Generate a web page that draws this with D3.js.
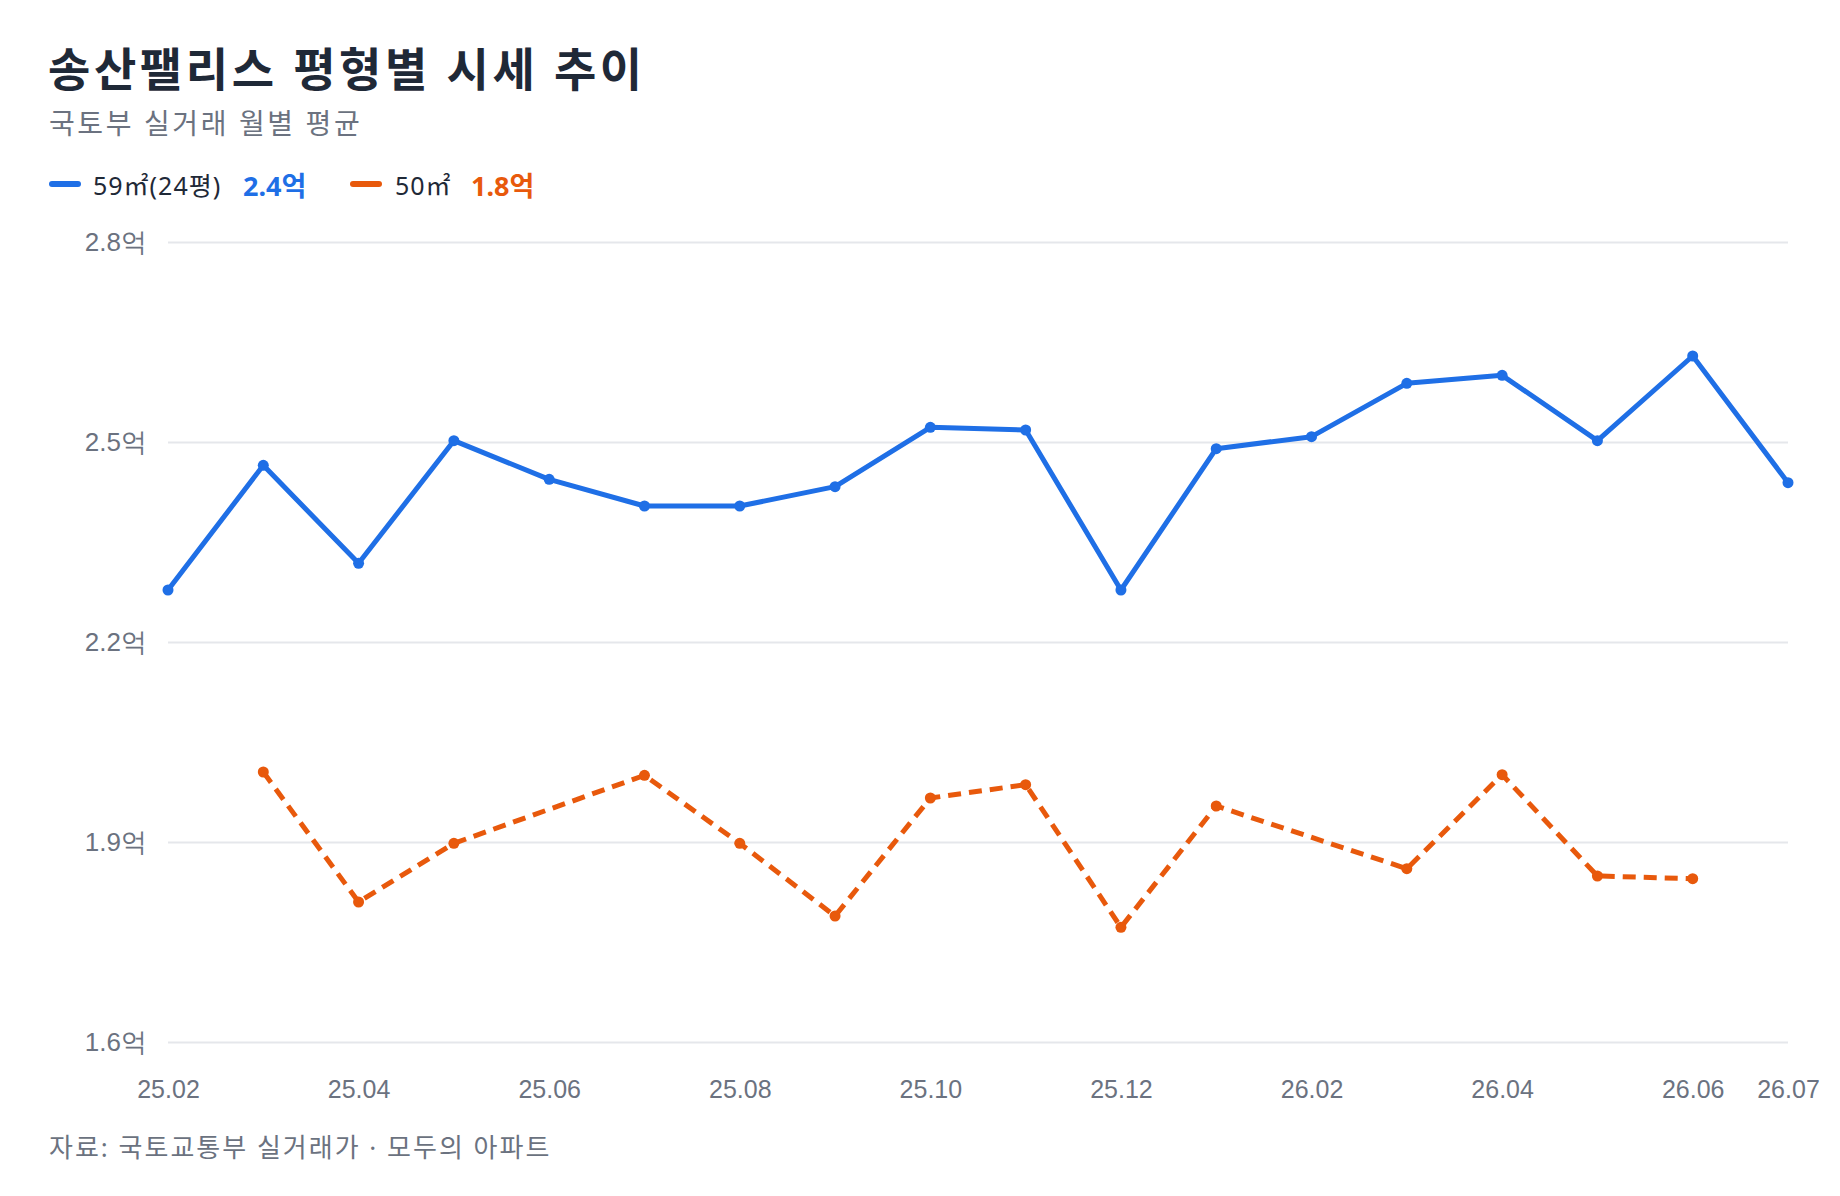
<!DOCTYPE html>
<html lang="ko">
<head>
<meta charset="utf-8">
<script src="https://cdn.jsdelivr.net/npm/d3@7"></script>
<style>
  html, body { margin: 0; padding: 0; background: #ffffff; }
  svg { display: block; font-family: "Noto Sans", "Noto Sans CJK KR", sans-serif; }
</style>
</head>
<body>
<div id="chart"></div>
<script>
// DATA
const months = ["25.02", "25.03", "25.04", "25.05", "25.06", "25.07", "25.08", "25.09", "25.10",
                "25.11", "25.12", "26.01", "26.02", "26.03", "26.04", "26.05", "26.06", "26.07"];
const tickMonths = ["25.02", "25.04", "25.06", "25.08", "25.10", "25.12", "26.02", "26.04", "26.06", "26.07"];
const yTicks = [1.6, 1.9, 2.2, 2.5, 2.8];

// 59㎡(24평) monthly average (억)
const price59 = [2.278, 2.465, 2.318, 2.502, 2.444, 2.404, 2.404, 2.433, 2.522,
                 2.518, 2.278, 2.490, 2.508, 2.588, 2.600, 2.502, 2.629, 2.439];
// 50㎡ monthly average (억), null = no deal that month
const price50 = [null, 2.005, 1.810, 1.898, null, 2.000, 1.898, 1.789, 1.966,
                 1.986, 1.772, 1.954, null, 1.860, 2.001, 1.849, 1.845, null];

const seriesNames = ["59㎡(24평)", "50㎡"];
const seriesColors = ["#1f6fe6", "#e8590c"];

// ---------------------------------------------------------------------------------
// SET-UP
const width = 1840;
const height = 1196;
const plotLeft = 168, plotRight = 1788, plotTop = 242, plotBottom = 1042;

const svg = d3.select("#chart")
    .append("svg")
    .attr("width", width)
    .attr("height", height);

const x = d3.scalePoint()
    .domain(months)
    .range([plotLeft, plotRight]);

const y = d3.scaleLinear()
    .domain([1.6, 2.8])
    .range([plotBottom, plotTop]);

// ---------------------------------------------------------------------------------
// TITLE / SUBTITLE / FOOTNOTE
svg.append("text")
    .attr("x", 48)
    .attr("y", 68)
    .attr("dominant-baseline", "central")
    .attr("font-size", 46)
    .attr("font-weight", 700)
    .attr("letter-spacing", 3.6)
    .attr("fill", "#1f2937")
    .text("송산팰리스 평형별 시세 추이");

svg.append("text")
    .attr("x", 49)
    .attr("y", 123)
    .attr("dominant-baseline", "central")
    .attr("font-size", 28)
    .attr("letter-spacing", 2.6)
    .attr("fill", "#6b7280")
    .text("국토부 실거래 월별 평균");

svg.append("text")
    .attr("x", 49)
    .attr("y", 1147)
    .attr("dominant-baseline", "central")
    .attr("font-size", 26)
    .attr("letter-spacing", 2)
    .attr("fill", "#6b7280")
    .text("자료: 국토교통부 실거래가 · 모두의 아파트");

// ---------------------------------------------------------------------------------
// LEGEND
const latest = [price59, price50].map(arr => arr.filter(v => v != null).slice(-1)[0]);
const legendPos = [
    {swatch: 49, label: 93, value: 243},
    {swatch: 350, label: 395, value: 471}
];

legendPos.forEach(function(p, i) {
    const g = svg.append("g");
    g.append("line")
        .attr("x1", p.swatch + 3).attr("x2", p.swatch + 29)
        .attr("y1", 184).attr("y2", 184)
        .attr("stroke", seriesColors[i])
        .attr("stroke-width", 6)
        .attr("stroke-linecap", "round");
    g.append("text")
        .attr("x", p.label).attr("y", 185)
        .attr("dominant-baseline", "central")
        .attr("font-size", 25)
        .attr("letter-spacing", 1)
        .attr("fill", "#1f2937")
        .text(seriesNames[i]);
    g.append("text")
        .attr("x", p.value).attr("y", 185)
        .attr("dominant-baseline", "central")
        .attr("font-size", 27)
        .attr("font-weight", 700)
        .attr("fill", seriesColors[i])
        .text(d3.format(".1f")(latest[i]) + "억");
});

// ---------------------------------------------------------------------------------
// AXES
const yAxis = svg.append("g")
    .attr("transform", `translate(${plotLeft},0)`)
    .call(d3.axisLeft(y)
        .tickValues(yTicks)
        .tickSize(-(plotRight - plotLeft))
        .tickPadding(21)
        .tickFormat(d => d3.format(".1f")(d) + "억"));
yAxis.select(".domain").remove();
yAxis.selectAll(".tick line")
    .attr("stroke", "#e5e7eb")
    .attr("stroke-width", 2);
yAxis.selectAll(".tick text")
    .attr("font-size", 26)
    .attr("fill", "#6b7280")
    .attr("font-family", null);

const xAxis = svg.append("g")
    .attr("transform", `translate(0,${plotBottom})`)
    .call(d3.axisBottom(x)
        .tickValues(tickMonths)
        .tickSize(0)
        .tickPadding(38));
xAxis.select(".domain").remove();
xAxis.selectAll(".tick text")
    .attr("font-size", 25)
    .attr("fill", "#6b7280")
    .attr("font-family", null);

// ---------------------------------------------------------------------------------
// LINES + DOTS
const line = d3.line()
    .x(d => x(d.month))
    .y(d => y(d.value));

[price59, price50].forEach(function(arr, i) {
    const pts = months.map((m, j) => ({month: m, value: arr[j]}))
        .filter(d => d.value != null);

    svg.append("path")
        .datum(pts)
        .attr("d", line)
        .attr("fill", "none")
        .attr("stroke", seriesColors[i])
        .attr("stroke-width", 5)
        .attr("stroke-linejoin", "round")
        .attr("stroke-dasharray", i === 1 ? "13 8" : null);

    svg.append("g")
        .selectAll("circle")
        .data(pts)
        .join("circle")
        .attr("cx", d => x(d.month))
        .attr("cy", d => y(d.value))
        .attr("r", 5.5)
        .attr("fill", seriesColors[i]);
});
</script>
</body>
</html>
